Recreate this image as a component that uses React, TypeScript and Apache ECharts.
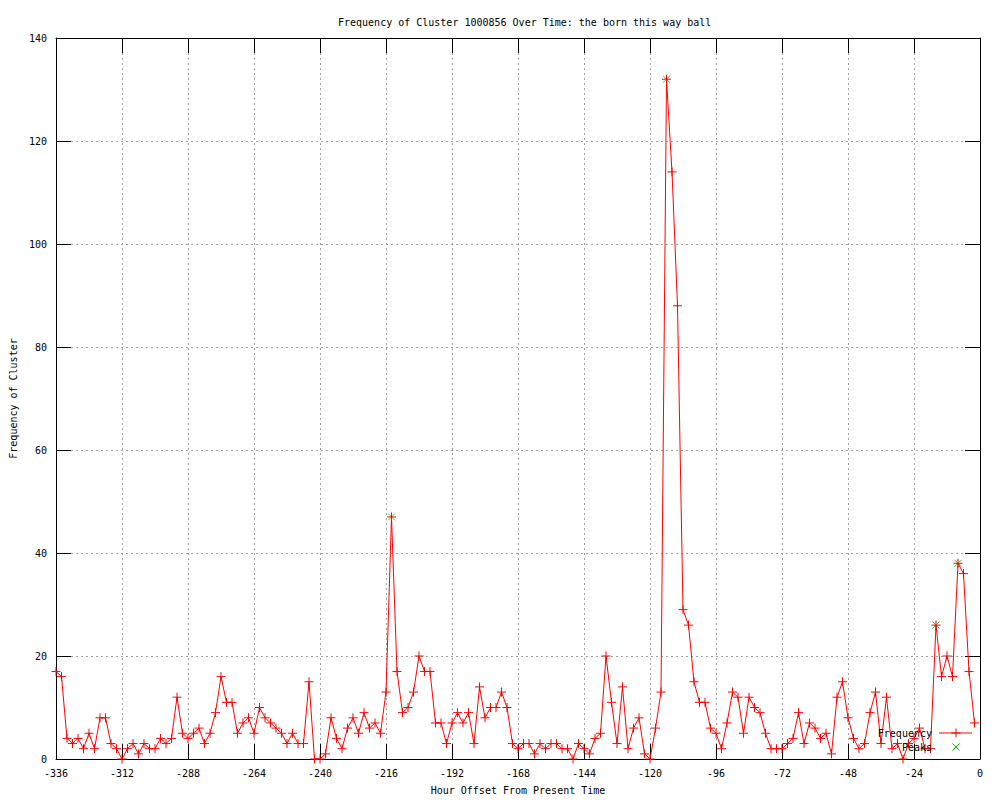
import React, { useEffect, useRef } from "react";
import * as echarts from "echarts";

const titleText = "Frequency of Cluster 1000856 Over Time: the born this way ball";
const xAxisName = "Hour Offset From Present Time";
const yAxisName = "Frequency of Cluster";

const hours = [
  -336, -334, -332, -330, -328, -326, -324, -322, -320, -318, -316, -314, -312, -310, -308, -306, -304, -302, -300, -298,
  -296, -294, -292, -290, -288, -286, -284, -282, -280, -278, -276, -274, -272, -270, -268, -266, -264, -262, -260, -258,
  -256, -254, -252, -250, -248, -246, -244, -242, -240, -238, -236, -234, -232, -230, -228, -226, -224, -222, -220, -218,
  -216, -214, -212, -210, -208, -206, -204, -202, -200, -198, -196, -194, -192, -190, -188, -186, -184, -182, -180, -178,
  -176, -174, -172, -170, -168, -166, -164, -162, -160, -158, -156, -154, -152, -150, -148, -146, -144, -142, -140, -138,
  -136, -134, -132, -130, -128, -126, -124, -122, -120, -118, -116, -114, -112, -110, -108, -106, -104, -102, -100, -98,
  -96, -94, -92, -90, -88, -86, -84, -82, -80, -78, -76, -74, -72, -70, -68, -66, -64, -62, -60, -58,
  -56, -54, -52, -50, -48, -46, -44, -42, -40, -38, -36, -34, -32, -30, -28, -26, -24, -22, -20, -18,
  -16, -14, -12, -10, -8, -6, -4, -2,
];

const frequency = [
  17, 16, 4, 3, 4, 2, 5, 2, 8, 8, 3, 2, 0, 2, 3, 1, 3, 2, 2, 4,
  3, 4, 12, 5, 4, 5, 6, 3, 5, 9, 16, 11, 11, 5, 7, 8, 5, 10, 8, 7,
  6, 5, 3, 5, 3, 3, 15, 0, 0, 1, 8, 4, 2, 6, 8, 5, 9, 6, 7, 5,
  13, 47, 17, 9, 10, 13, 20, 17, 17, 7, 7, 3, 7, 9, 7, 9, 3, 14, 8, 10,
  10, 13, 10, 3, 2, 3, 3, 1, 3, 2, 3, 3, 2, 2, 0, 3, 2, 1, 4, 5,
  20, 11, 3, 14, 2, 6, 8, 1, 0, 6, 13, 132, 114, 88, 29, 26, 15, 11, 11, 6,
  5, 2, 7, 13, 12, 5, 12, 10, 9, 5, 2, 2, 2, 3, 4, 9, 3, 7, 6, 4,
  5, 1, 12, 15, 8, 4, 2, 3, 9, 13, 3, 12, 2, 3, 0, 3, 4, 6, 2, 2,
  26, 16, 20, 16, 38, 36, 17, 7,
];

const peakHours = [-214, -114, -16, -8];
const peakValues = [47, 132, 26, 38];

const xTicks = { min: -336, max: 0, interval: 24 };
const yTicks = { min: 0, max: 140, interval: 20 };

const FONT = "DejaVu Sans Mono";

export default function App() {
  const ref = useRef<HTMLDivElement>(null);

  useEffect(() => {
    if (!ref.current) return;
    const chart = echarts.init(ref.current, null, { renderer: "svg" });

    const freqData = hours.map((h, i) => [h, frequency[i]]);
    const peakData = peakHours.map((h, i) => [h, peakValues[i]]);

    const textStyle = { fontFamily: FONT, fontSize: 10, color: "#000" };
    const axisLine = { show: true, onZero: false, lineStyle: { color: "#000", width: 1 } };
    const tick = { show: true, inside: true, length: 15, lineStyle: { color: "#000", width: 1 } };
    const split = { show: true, lineStyle: { color: "#a0a0a0", width: 1, type: [2, 3] as any } };

    chart.setOption({
      animation: false,
      backgroundColor: "#fff",
      textStyle: { fontFamily: FONT },
      title: {
        text: titleText,
        left: 333,
        top: 12,
        textStyle: { fontFamily: FONT, fontSize: 10, fontWeight: "normal", color: "#000" },
      },
      grid: { left: 55, right: 20, top: 38, bottom: 40, containLabel: false },
      xAxis: [
        {
          type: "value",
          ...xTicks,
          position: "bottom",
          name: xAxisName,
          nameLocation: "middle",
          nameGap: 26,
          nameTextStyle: textStyle,
          axisLine,
          axisTick: tick,
          axisLabel: { ...textStyle, margin: 9, showMinLabel: true, showMaxLabel: true },
          splitLine: split,
        },
        {
          type: "value",
          ...xTicks,
          position: "top",
          axisLine,
          axisTick: tick,
          axisLabel: { show: false },
          splitLine: { show: false },
        },
      ],
      yAxis: [
        {
          type: "value",
          ...yTicks,
          position: "left",
          name: yAxisName,
          nameLocation: "middle",
          nameGap: 38,
          nameTextStyle: textStyle,
          axisLine,
          axisTick: tick,
          axisLabel: { ...textStyle, margin: 9 },
          splitLine: split,
        },
        {
          type: "value",
          ...yTicks,
          position: "right",
          axisLine,
          axisTick: tick,
          axisLabel: { show: false },
          splitLine: { show: false },
        },
      ],
      series: [
        {
          name: "Frequency",
          type: "line",
          data: freqData,
          xAxisIndex: 0,
          yAxisIndex: 0,
          symbol: "path://M0,5L10,5M5,0L5,10",
          symbolSize: 9,
          showAllSymbol: true,
          lineStyle: { color: "#ff0000", width: 1 },
          itemStyle: { color: "#ff0000", borderColor: "#ff0000", borderWidth: 1 },
          emphasis: { disabled: true },
          z: 3,
        },
        {
          name: "Peaks",
          type: "scatter",
          data: peakData,
          xAxisIndex: 0,
          yAxisIndex: 0,
          symbol: "path://M0,0L10,10M10,0L0,10",
          symbolSize: 7,
          itemStyle: { color: "#00c000", borderColor: "#00c000", borderWidth: 1 },
          emphasis: { disabled: true },
          z: 2,
        },
      ],
      graphic: [
        {
          type: "text",
          x: 932,
          y: 733,
          style: { text: "Frequency", align: "right", verticalAlign: "middle", font: `10px "${FONT}"`, fill: "#000" },
          z: 10,
        },
        { type: "line", shape: { x1: 939, y1: 733, x2: 972, y2: 733 }, style: { stroke: "#ff0000", lineWidth: 1 }, z: 10 },
        { type: "line", shape: { x1: 951.5, y1: 733, x2: 960.5, y2: 733 }, style: { stroke: "#ff0000", lineWidth: 1 }, z: 10 },
        { type: "line", shape: { x1: 956, y1: 728.5, x2: 956, y2: 737.5 }, style: { stroke: "#ff0000", lineWidth: 1 }, z: 10 },
        {
          type: "text",
          x: 932,
          y: 747,
          style: { text: "Peaks", align: "right", verticalAlign: "middle", font: `10px "${FONT}"`, fill: "#000" },
          z: 10,
        },
        { type: "line", shape: { x1: 952.5, y1: 743.5, x2: 959.5, y2: 750.5 }, style: { stroke: "#00c000", lineWidth: 1 }, z: 10 },
        { type: "line", shape: { x1: 959.5, y1: 743.5, x2: 952.5, y2: 750.5 }, style: { stroke: "#00c000", lineWidth: 1 }, z: 10 },
      ],
    });

    return () => chart.dispose();
  }, []);

  return (
    <div
      ref={ref}
      style={{ position: "fixed", left: 0, top: 0, width: 1000, height: 800, background: "#fff" }}
    />
  );
}
